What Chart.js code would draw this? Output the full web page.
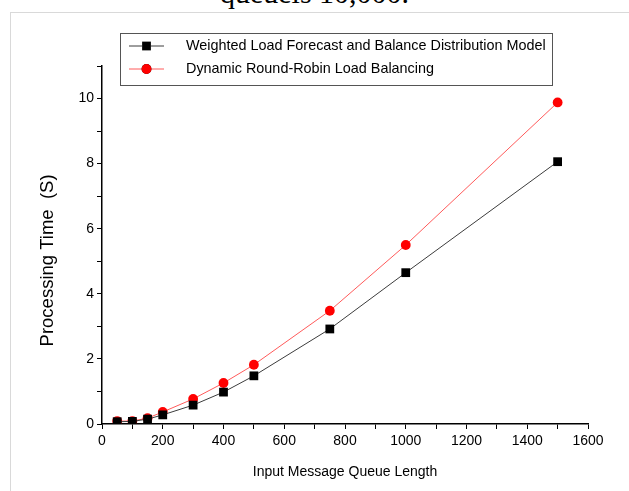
<!DOCTYPE html>
<html>
<head>
<meta charset="utf-8">
<script src="https://cdn.jsdelivr.net/npm/chart.js@4"></script>
<style>
  html, body { margin: 0; padding: 0; background: #fff; overflow: hidden; }
  #wrap { position: relative; width: 629px; height: 491px; }
  #caption {
    position: absolute; left: 0; width: 629px; top: -22px;
    text-align: center; font: 30px/30px "Liberation Serif", serif; color: #000;
  }
  #frame {
    position: absolute; left: 10px; top: 12px; width: 700px; height: 600px;
    border: 1px solid #d9d9d9;
  }
  #myChart { position: absolute; left: 0; top: 0; }
</style>
</head>
<body>
<div id="wrap">
  <div id="caption">queueis 10,000.</div>
  <div id="frame"></div>
  <canvas id="myChart" width="629" height="491"></canvas>
</div>
<script>
// queue lengths on the x axis
const queueLengths = [50, 100, 150, 200, 300, 400, 500, 750, 1000, 1500];
// processing time (s)
const weightedModel = [0.07, 0.08, 0.15, 0.28, 0.58, 0.98, 1.48, 2.92, 4.65, 8.06];
const roundRobin = [0.09, 0.09, 0.18, 0.37, 0.77, 1.26, 1.82, 3.48, 5.50, 9.88];
const seriesNames = [
  "Weighted Load Forecast and Balance Distribution Model",
  "Dynamic Round-Robin Load Balancing"
];
const xLabelTicks = [0, 200, 400, 600, 800, 1000, 1200, 1400, 1600];
const yLabelTicks = [0, 2, 4, 6, 8, 10];

const FONT = "'Liberation Sans', Arial, sans-serif";

const toPoints = (vals) => vals.map((v, i) => ({ x: queueLengths[i], y: v }));

// legend box drawn inside the frame like the Origin plot
const boxLegend = {
  id: "boxLegend",
  afterDraw(chart) {
    const ctx = chart.ctx;
    const left = 120.5, top = 33.5, w = 432, h = 52;
    ctx.save();
    ctx.fillStyle = "#fff";
    ctx.fillRect(left, top, w, h);
    ctx.strokeStyle = "#555";
    ctx.lineWidth = 1;
    ctx.strokeRect(left, top, w, h);
    ctx.font = "14.4px " + FONT;
    ctx.textBaseline = "middle";
    chart.data.datasets.forEach((ds, i) => {
      const y = 46 + i * 23;
      ctx.strokeStyle = ds.borderColor;
      ctx.lineWidth = 1;
      ctx.beginPath();
      ctx.moveTo(129, y);
      ctx.lineTo(164, y);
      ctx.stroke();
      Chart.helpers.drawPoint(ctx, {
        pointStyle: ds.pointStyle,
        radius: ds.pointRadius,
        borderWidth: 0
      }, 146.5, y);
      ctx.fillStyle = ds.pointBackgroundColor;
      ctx.fill();
      ctx.fillStyle = "#000";
      ctx.fillText(ds.label, 186, y);
    });
    ctx.restore();
  }
};

new Chart(document.getElementById("myChart"), {
  type: "line",
  data: {
    datasets: [
      {
        label: seriesNames[0],
        data: toPoints(weightedModel),
        borderColor: "#3c3c3c",
        borderWidth: 1,
        pointStyle: "rect",
        pointRadius: 6.2,
        pointBackgroundColor: "#000",
        pointBorderWidth: 0,
        tension: 0
      },
      {
        label: seriesNames[1],
        data: toPoints(roundRobin),
        borderColor: "#ff5a5a",
        borderWidth: 1,
        pointStyle: "circle",
        pointRadius: 4.9,
        pointBackgroundColor: "#ff0000",
        pointBorderWidth: 0,
        tension: 0
      }
    ]
  },
  options: {
    responsive: false,
    animation: false,
    layout: { padding: { left: 0, right: 41, top: 66, bottom: 0 } },
    plugins: { legend: { display: false }, tooltip: { enabled: false } },
    scales: {
      x: {
        type: "linear",
        min: 0,
        max: 1600,
        afterFit: (s) => { s.height = 67; },
        border: { color: "#000", width: 1.5 },
        grid: { drawOnChartArea: false, tickLength: 5, color: "#000" },
        ticks: {
          stepSize: 100,
          autoSkip: false,
          maxRotation: 0,
          padding: 4,
          color: "#000",
          font: { family: FONT, size: 14 },
          callback: (v) => (xLabelTicks.includes(v) ? String(v) : "")
        },
        title: {
          display: true,
          text: "Input Message Queue Length",
          color: "#000",
          font: { family: FONT, size: 14 },
          padding: { bottom: 10 }
        }
      },
      y: {
        min: 0,
        max: 11,
        afterFit: (s) => { s.width = 102; },
        border: { color: "#000", width: 1.5 },
        grid: { drawOnChartArea: false, tickLength: 5, color: "#000" },
        ticks: {
          stepSize: 1,
          autoSkip: false,
          padding: 3,
          color: "#000",
          font: { family: FONT, size: 14 },
          callback: (v) => (yLabelTicks.includes(v) ? String(v) : "")
        },
        title: {
          display: true,
          text: "Processing Time  (S)      ",
          color: "#000",
          font: { family: FONT, size: 18.5 },
          padding: { top: 37 }
        }
      }
    }
  },
  plugins: [boxLegend]
});
</script>
</body>
</html>
